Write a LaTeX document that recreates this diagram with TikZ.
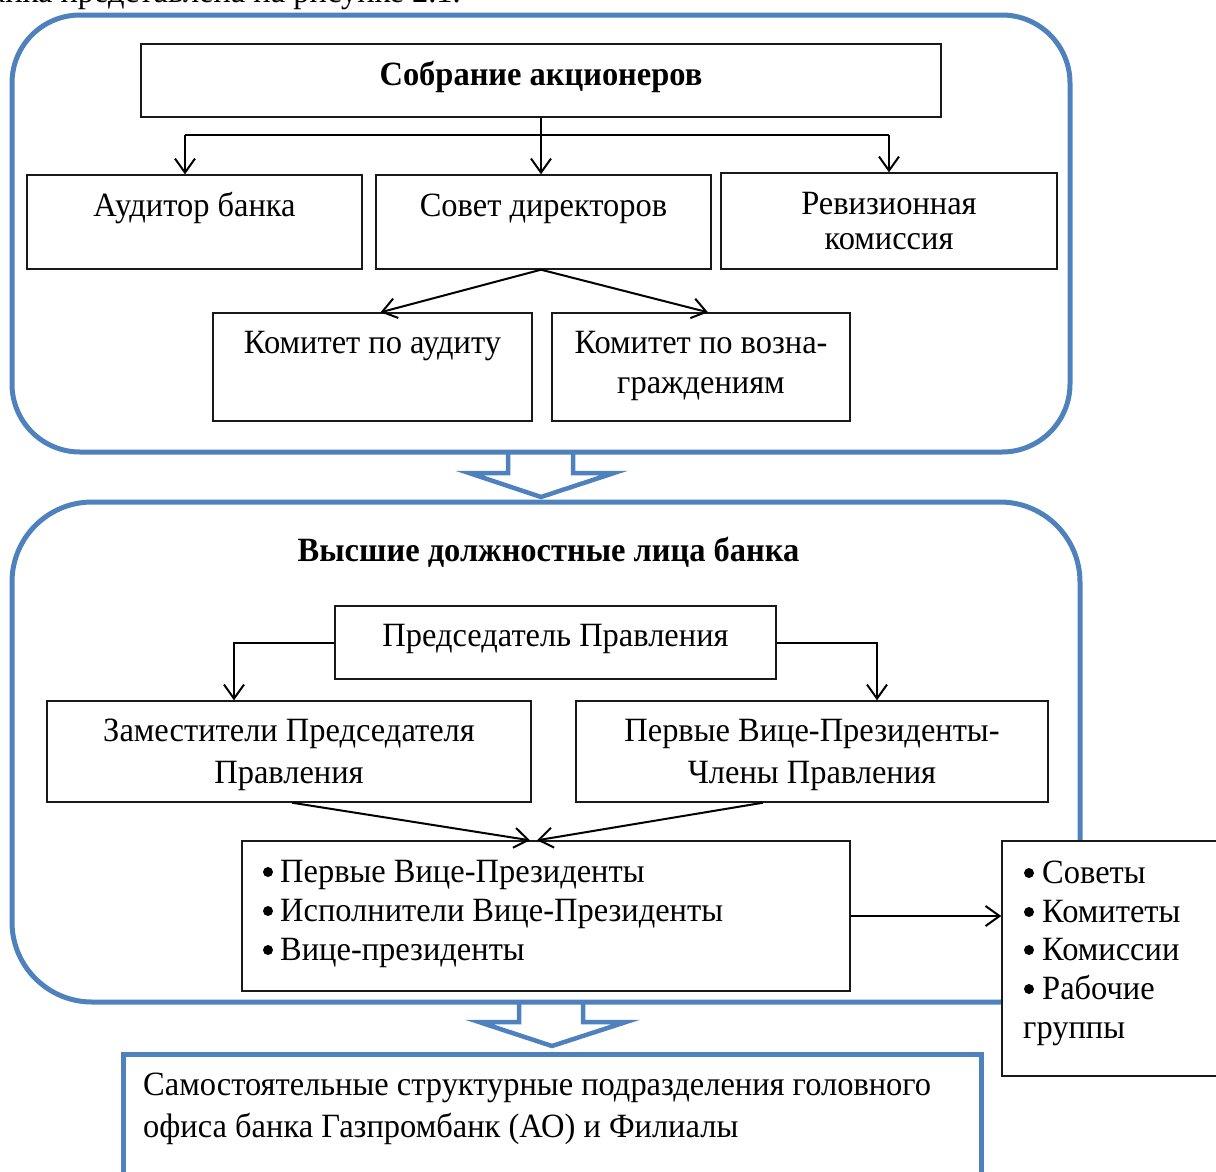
\documentclass[tikz,border=0pt]{standalone}
\usepackage{fontspec}
\setmainfont{Liberation Serif}[FakeStretch=0.955]
\usetikzlibrary{arrows.meta,calc}
\definecolor{ublue}{RGB}{79,129,189}
\begin{document}
\begin{tikzpicture}[x=1pt,y=-1pt,
  box/.style={draw=black!90,line width=1.4pt,inner sep=0pt,rectangle},
  bluebox/.style={draw=ublue,line width=5pt},
  blockarrow/.style={draw=ublue,line width=4.5pt,line join=miter},
  txt/.style={font=\fontsize{34}{40}\selectfont,inner sep=0pt,anchor=base},
  btxt/.style={txt,font=\fontsize{34}{40}\selectfont\bfseries},
  ltxt/.style={txt,anchor=base west},
  conn/.style={draw=black,line width=2pt},
  arr/.style={conn,-{Straight Barb[length=14pt,width=20pt]}}
]
\useasboundingbox (0,0) rectangle (1216,1171);
\clip (0,0) rectangle (1216,1171);

% intro text (cut off at top)
\node[txt,anchor=base east] (intro) at (461,2) {банка представлена на рисунке 2.1.};

% ---------- upper group ----------
\draw[bluebox,rounded corners=68pt] (12,15) rectangle (1070,452);

\node[box,minimum width=800pt,minimum height=73pt] (sobr) at (541,80.5) {};
\node[btxt] (t-sobr) at (541,85) {Собрание акционеров};

\node[box,minimum width=335pt,minimum height=94pt] (aud) at (194.5,222) {};
\node[txt] (t-aud) at (194.5,216) {Аудитор банка};

\node[box,minimum width=335pt,minimum height=94pt] (sovet) at (543.5,222) {};
\node[txt] (t-sovet) at (543.5,216) {Совет директоров};

\node[box,minimum width=336pt,minimum height=96pt] (rev) at (889,221) {};
\node[txt] (t-rev1) at (889,214) {Ревизионная};
\node[txt] (t-rev2) at (889,249) {комиссия};

\node[box,minimum width=319pt,minimum height=108pt] (koma) at (372.5,367) {};
\node[txt] (t-koma) at (372.5,353) {Комитет по аудиту};

\node[box,minimum width=298pt,minimum height=108pt] (komv) at (701,367) {};
\node[txt] (t-komv1) at (701,353) {Комитет по возна-};
\node[txt] (t-komv2) at (701,393) {граждениям};

\coordinate (ja) at (185,135);
\coordinate (jr) at (889,135);
\draw[arr] (sobr.south) -- (sobr.south |- sovet.north);
\draw[conn] (ja) -- (jr);
\draw[arr] (ja) -- (ja |- aud.north);
\draw[arr] (jr) -- (jr |- rev.north);
\draw[arr] ([xshift=-2.5pt]sovet.south) -- ([xshift=8pt]koma.north);
\draw[arr] ([xshift=-2.5pt]sovet.south) -- ([xshift=7pt]komv.north);

% block arrow 1
\draw[blockarrow] (508,452) -- (508,473) -- (469,473) -- (541,497) -- (614,473) -- (573,473) -- (573,452);

% ---------- lower group ----------
\draw[bluebox,rounded corners=80pt] (12,502) rectangle (1080,1002);

\node[btxt] (t-high) at (548.5,561) {Высшие должностные лица банка};

\node[box,minimum width=441pt,minimum height=73pt] (pred) at (555.5,642.5) {};
\node[txt] (t-pred) at (555.5,646) {Председатель Правления};

\node[box,minimum width=484pt,minimum height=101pt] (zam) at (289,751.5) {};
\node[txt] (t-zam1) at (289,741) {Заместители Председателя};
\node[txt] (t-zam2) at (289,783) {Правления};

\node[box,minimum width=472pt,minimum height=101pt] (perv) at (812,751.5) {};
\node[txt] (t-perv1) at (812,741) {Первые Вице-Президенты-};
\node[txt] (t-perv2) at (812,783) {Члены Правления};

\node[box,minimum width=608pt,minimum height=150pt] (bul) at (546,916) {};
\fill (268,872) circle (5pt);
\fill (268,911) circle (5pt);
\fill (268,950) circle (5pt);
\node[ltxt] (t-bul1) at (280,882) {Первые Вице-Президенты};
\node[ltxt] (t-bul2) at (280,921) {Исполнители Вице-Президенты};
\node[ltxt] (t-bul3) at (280,960) {Вице-президенты};

\draw[arr] (pred.west) -| ([xshift=-55pt]zam.north);
\draw[arr] (pred.east) -| ([xshift=65pt]perv.north);
\draw[arr] ([xshift=3pt]zam.south) -- ([xshift=-16pt]bul.north);
\draw[arr] ([xshift=-49pt]perv.south) -- ([xshift=-9pt]bul.north);

% side box
\node[box,fill=white,minimum width=228pt,minimum height=235pt] (sov) at (1116,958.5) {};
\fill (1029,873) circle (5pt);
\fill (1029,912) circle (5pt);
\fill (1029,950) circle (5pt);
\fill (1029,989) circle (5pt);
\node[ltxt] (t-sov1) at (1042,883) {Советы};
\node[ltxt] (t-sov2) at (1042,922) {Комитеты};
\node[ltxt] (t-sov3) at (1042,960) {Комиссии};
\node[ltxt] (t-sov4) at (1042,999) {Рабочие};
\node[ltxt] (t-sov5) at (1023,1038) {группы};

\draw[arr] (bul.east) -- (bul.east -| sov.west);

% block arrow 2
\draw[blockarrow] (519,1002) -- (519,1022) -- (479,1022) -- (552,1046) -- (626,1022) -- (583,1022) -- (583,1002);

% bottom box
\node[draw=ublue,line width=5pt,inner sep=0pt,minimum width=858pt,minimum height=150pt,anchor=north west] (bot) at (121,1052) {};
\node[ltxt] (t-bot1) at (143,1095) {Самостоятельные структурные подразделения головного};
\node[ltxt] (t-bot2) at (143,1137) {офиса банка Газпромбанк (АО) и Филиалы};
\end{tikzpicture}
\end{document}
